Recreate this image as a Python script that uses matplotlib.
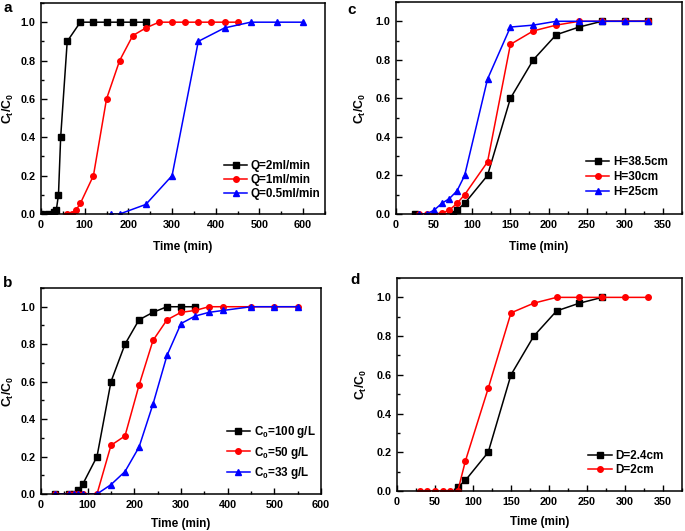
import numpy as np
import matplotlib
matplotlib.use("Agg")
import matplotlib.pyplot as plt
from matplotlib.ticker import MultipleLocator

plt.rcParams['font.family'] = ['Liberation Sans', 'DejaVu Sans']
plt.rcParams['font.weight'] = 'bold'
plt.rcParams['mathtext.fontset'] = 'custom'
plt.rcParams['mathtext.rm'] = 'Liberation Sans:bold'
plt.rcParams['mathtext.it'] = 'Liberation Sans:bold'
plt.rcParams['mathtext.bf'] = 'Liberation Sans:bold'
plt.rcParams['mathtext.default'] = 'bf'

#--- Données (a) : débit ---
a_t_q2 = [0, 15, 30, 35, 40, 45, 60, 90, 120, 150, 180, 210, 240]
a_c_q2 = [0, 0, 0.01, 0.02, 0.1, 0.4, 0.9, 1, 1, 1, 1, 1, 1]
a_t_q1 = [60, 70, 80, 90, 120, 150, 180, 210, 240, 270, 300, 330, 360, 390, 420, 450]
a_c_q1 = [0, 0, 0.02, 0.055, 0.2, 0.6, 0.8, 0.93, 0.97, 1, 1, 1, 1, 1, 1, 1]
a_t_q05 = [160, 180, 240, 300, 360, 420, 480, 540, 600]
a_c_q05 = [0, 0, 0.05, 0.2, 0.9, 0.97, 1, 1, 1]
a_labels = ["Q=2ml/min", "Q=1ml/min", "Q=0.5ml/min"]

#--- Données (b) : concentration initiale ---
b_t_100 = [30, 60, 70, 80, 90, 120, 150, 180, 210, 240, 270, 300, 330]
b_c_100 = [0, 0, 0, 0.02, 0.055, 0.2, 0.6, 0.8, 0.93, 0.97, 1, 1, 1]
b_t_50 = [30, 60, 70, 80, 90, 120, 150, 180, 210, 240, 270, 300, 330, 360, 390, 450, 500, 550]
b_c_50 = [0, 0, 0, 0, 0, 0, 0.26, 0.31, 0.58, 0.82, 0.93, 0.97, 0.98, 1, 1, 1, 1, 1]
b_t_33 = [30, 60, 70, 80, 90, 120, 150, 180, 210, 240, 270, 300, 330, 360, 390, 450, 500, 550]
b_c_33 = [0, 0, 0, 0, 0, 0, 0.05, 0.12, 0.25, 0.48, 0.74, 0.91, 0.95, 0.97, 0.98, 1, 1, 1]
b_labels = ["C$_0$=100 g/L", "C$_0$=50 g/L", "C$_0$=33 g/L"]

#--- Données (c) : hauteur du lit ---
c_t_385 = [25, 75, 80, 90, 120, 150, 180, 210, 240, 270, 300, 330]
c_c_385 = [0, 0, 0.02, 0.055, 0.2, 0.6, 0.8, 0.93, 0.97, 1, 1, 1]
c_t_30 = [30, 40, 50, 60, 70, 80, 90, 120, 150, 180, 210, 240, 270, 300, 330]
c_c_30 = [0, 0, 0, 0.005, 0.02, 0.055, 0.1, 0.27, 0.88, 0.95, 0.98, 1, 1, 1, 1]
c_t_25 = [30, 40, 50, 60, 70, 80, 90, 120, 150, 180, 210, 240, 270, 300, 330]
c_c_25 = [0, 0, 0.02, 0.055, 0.08, 0.12, 0.2, 0.7, 0.97, 0.98, 1, 1, 1, 1, 1]
c_labels = ["H=38.5cm", "H=30cm", "H=25cm"]

#--- Données (d) : diamètre ---
d_t_24 = [80, 90, 120, 150, 180, 210, 240, 270]
d_c_24 = [0.02, 0.055, 0.2, 0.6, 0.8, 0.93, 0.97, 1]
d_t_2 = [30, 40, 50, 60, 70, 80, 90, 120, 150, 180, 210, 240, 270, 300, 330]
d_c_2 = [0, 0, 0, 0, 0, 0, 0.155, 0.53, 0.92, 0.97, 1, 1, 1, 1, 1]
d_labels = ["D=2.4cm", "D=2cm"]

couleurs = ['black', 'red', 'blue']
marqueurs = ['s', 'o', '^']

W, H = 685.0, 531.0
fig = plt.figure(figsize=(6.85, 5.31), dpi=100)


def boite(x0, x1, y0, y1):
    # position en pixels -> fractions de la figure
    return [x0 / W, 1 - y1 / H, (x1 - x0) / W, (y1 - y0) / H]


def panneau(rect, series, labels, xmax, xmaj, ylab_x, leg_anchor, leg_esp, xpad):
    ax = fig.add_axes(rect)
    for i, (t, c) in enumerate(series):
        ax.plot(t, c, color=couleurs[i], marker=marqueurs[i], ms=4,
                lw=1.1, label=labels[i])
    ax.set_xlim(0, xmax)
    ax.set_ylim(0, 1.1)
    ax.xaxis.set_major_locator(MultipleLocator(xmaj))
    ax.xaxis.set_minor_locator(MultipleLocator(xmaj / 2))
    ax.yaxis.set_minor_locator(MultipleLocator(0.1))
    ax.set_yticks(np.arange(0, 1.01, 0.2))
    ax.set_yticklabels(["%.1f" % v for v in np.arange(0, 1.01, 0.2)])
    ax.tick_params(which='both', direction='in', top=False, right=False,
                   labelsize=7.8, width=1.0)
    ax.tick_params(which='major', length=4, pad=4)
    ax.tick_params(which='minor', length=2.5)
    for s in ax.spines.values():
        s.set_linewidth(1.1)
    ax.set_xlabel("Time (min)", fontsize=8.5, fontweight='bold', labelpad=xpad)
    ax.set_ylabel("C$_t$/C$_0$", fontsize=8.8, fontweight='bold')
    ax.yaxis.set_label_coords(ylab_x, 0.5)
    ax.legend(loc='lower right', bbox_to_anchor=leg_anchor, frameon=False,
              fontsize=8.4, handlelength=2.0, handletextpad=0.3,
              labelspacing=leg_esp, borderaxespad=0, borderpad=0)
    return ax


panneau(boite(41, 325, 3, 214),
        [(a_t_q2, a_c_q2), (a_t_q1, a_c_q1), (a_t_q05, a_c_q05)],
        a_labels, 650, 100, -0.088, (0.985, 0.065), 0.2, 8)
panneau(boite(41, 321, 288, 494),
        [(b_t_100, b_c_100), (b_t_50, b_c_50), (b_t_33, b_c_33)],
        b_labels, 600, 100, -0.09, (0.98, 0.065), 0.35, 6)
panneau(boite(396, 682, 2, 214),
        [(c_t_385, c_c_385), (c_t_30, c_c_30), (c_t_25, c_c_25)],
        c_labels, 375, 50, -0.098, (0.95, 0.075), 0.25, 8)
panneau(boite(397, 682, 278, 491),
        [(d_t_24, d_c_24), (d_t_2, d_c_2)],
        d_labels, 375, 50, -0.10, (0.935, 0.072), 0.15, 7)

# lettres des panneaux
for lettre, px, py in [('a', 8, 8), ('c', 352, 10), ('b', 8, 283), ('d', 355, 280)]:
    fig.text(px / W, 1 - py / H, lettre, fontsize=11, fontweight='bold',
             ha='center', va='center')

fig.savefig("out.png", dpi=100)
